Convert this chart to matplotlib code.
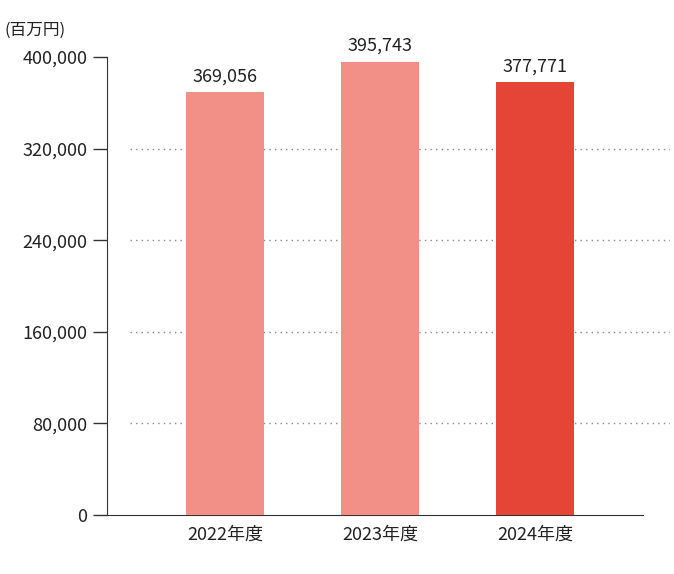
import matplotlib
matplotlib.use("Agg")
import matplotlib.pyplot as plt

plt.rcParams['font.family'] = ['Noto Sans CJK JP', 'DejaVu Sans']

categories = ["2022年度", "2023年度", "2024年度"]
values = [369056, 395743, 377771]
colors = ["#F28F87", "#F28F87", "#E54536"]
yticks = [0, 80000, 160000, 240000, 320000, 400000]
ytick_labels = ["0", "80,000", "160,000", "240,000", "320,000", "400,000"]

fig = plt.figure(figsize=(6.74, 5.74), dpi=100)
ax = fig.add_axes([107/674, 1-515/574, 563/674, 458/574])
x = list(range(len(categories)))
ax.bar(x, values, width=0.503, color=colors, zorder=3)
for xi, v in zip(x, values):
    ax.text(xi, v + 6000, f"{v:,}", ha="center", va="bottom", fontsize=13, color="#222222")
ax.set_xlim(-0.761, 2.871)
ax.set_ylim(0, 400000)
for t in yticks[1:-1]:
    ax.plot([-0.613, 2.871], [t, t], ls=(0, (1, 3)), color="#888888", lw=1, zorder=1)
ax.set_yticks(yticks)
ax.set_yticklabels(ytick_labels, fontsize=13, color="#222222")
ax.set_xticks(x)
ax.set_xticklabels(categories, fontsize=13, color="#222222")
ax.tick_params(axis="x", length=0, pad=8)
ax.tick_params(axis="y", length=10, width=1, color="#333333", pad=4)
for s in ["top", "right"]:
    ax.spines[s].set_visible(False)
ax.spines["left"].set_color("#333333")
ax.spines["bottom"].set_color("#333333")
ax.spines["bottom"].set_bounds(-0.761, 2.697)
fig.text(4/674, 1-30/574, "(百万円)", fontsize=12, va="center", ha="left", color="#222222")
fig.savefig("out.png", dpi=100)
